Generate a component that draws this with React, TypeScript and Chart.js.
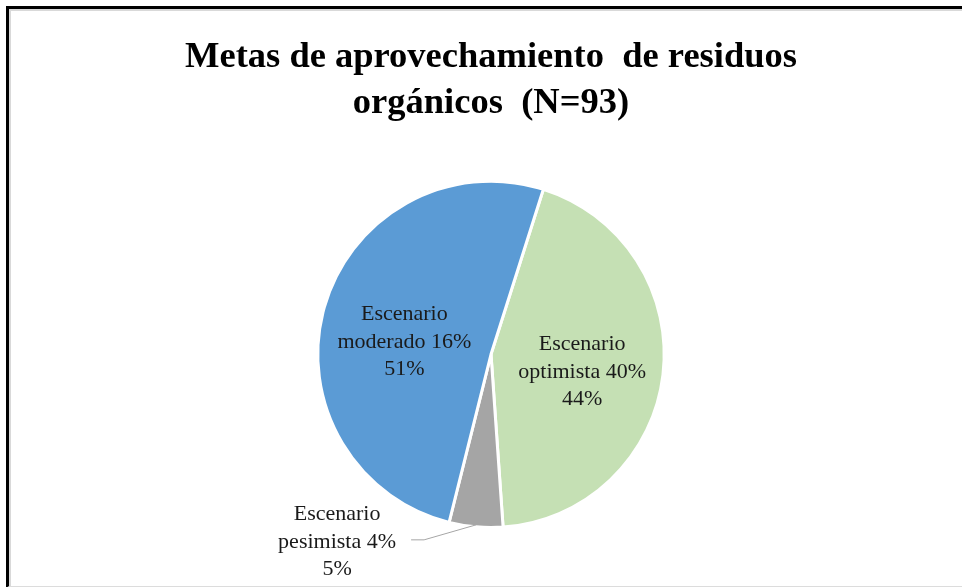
import React, { useEffect, useRef } from "react";
import { Chart, registerables } from "chart.js";

Chart.register(...registerables);

const TITLE_LINES = ["Metas de aprovechamiento  de residuos", "orgánicos  (N=93)"];
const CATEGORIES = ["Escenario optimista 40%", "Escenario pesimista 4%", "Escenario moderado 16%"];
const LABEL_LINES = [
  ["Escenario", "optimista 40%"],
  ["Escenario", "pesimista 4%"],
  ["Escenario", "moderado 16%"],
];
const VALUES = [44, 5, 51];
const COLORS = ["#C5E0B4", "#A5A5A5", "#5B9BD5"];
const START_DEG = 17.6;

const SERIF = '"Times New Roman", "Liberation Serif", Tinos, serif';

const labelPlugin = {
  id: "sliceLabels",
  afterDatasetsDraw(chart: any) {
    const ctx = chart.ctx;
    const meta = chart.getDatasetMeta(0);
    const total = VALUES.reduce((a, b) => a + b, 0);
    ctx.save();
    ctx.font = `22px ${SERIF}`;
    ctx.fillStyle = "#1a1a1a";
    ctx.textAlign = "center";
    ctx.textBaseline = "middle";
    const lh = 27.5;
    meta.data.forEach((arc: any, i: number) => {
      const p = arc.getProps(["x", "y", "startAngle", "endAngle", "outerRadius"], true);
      const mid = (p.startAngle + p.endAngle) / 2;
      const pct = Math.round((VALUES[i] / total) * 100) + "%";
      const lines = [...LABEL_LINES[i], pct];
      let cx: number, cy: number;
      if (i === 1) {
        const ex = p.x + Math.cos(mid) * (p.outerRadius - 2);
        const ey = p.y + Math.sin(mid) * (p.outerRadius - 2);
        const bx = ex - 52;
        const by = ey + 15;
        ctx.strokeStyle = "#A6A6A6";
        ctx.lineWidth = 1;
        ctx.beginPath();
        ctx.moveTo(ex, ey);
        ctx.lineTo(bx, by);
        ctx.lineTo(bx - 13, by);
        ctx.stroke();
        cx = bx - 87;
        cy = by + 2;
      } else {
        const f = i === 0 ? 0.53 : 0.52;
        cx = p.x + Math.cos(mid) * p.outerRadius * f;
        cy = p.y + Math.sin(mid) * p.outerRadius * f + (i === 0 ? 7 : 12);
      }
      lines.forEach((t, k) => {
        ctx.fillText(t, cx, cy + (k - 1) * lh);
      });
    });
    ctx.restore();
  },
};

export default function App() {
  const ref = useRef<HTMLCanvasElement | null>(null);
  useEffect(() => {
    document.body.style.margin = "0";
    if (!ref.current) return;
    const chart = new Chart(ref.current, {
      type: "pie",
      data: {
        labels: CATEGORIES,
        datasets: [
          {
            data: VALUES,
            backgroundColor: COLORS,
            borderColor: "#ffffff",
            borderWidth: 3,
          },
        ],
      },
      options: {
        animation: false,
        responsive: false,
        rotation: START_DEG,
        layout: { padding: { top: 0, left: 20, right: 0, bottom: 58 } },
        plugins: {
          legend: { display: false },
          tooltip: { enabled: false },
          title: {
            display: true,
            text: TITLE_LINES,
            color: "#000000",
            font: { family: SERIF, size: 36.5, weight: "bold", lineHeight: 1.25 },
            padding: { top: 35, bottom: 53.4 },
          },
        },
      },
      plugins: [labelPlugin],
    });
    return () => chart.destroy();
  }, []);

  return (
    <div style={{ position: "fixed", left: 0, top: 0, width: 962, height: 587, background: "#fff", overflow: "hidden" }}>
      <div
        style={{
          position: "absolute",
          left: 6,
          top: 6,
          width: 1000,
          height: 577,
          borderLeft: "3px solid #000",
          borderTop: "3px solid #000",
          borderBottom: "2px solid #dcdcdc",
          boxShadow: "inset 2px 2px 0 #d9d9d9",
        }}
      />
      <canvas ref={ref} width={962} height={587} style={{ position: "absolute", left: 0, top: 0 }} />
    </div>
  );
}
